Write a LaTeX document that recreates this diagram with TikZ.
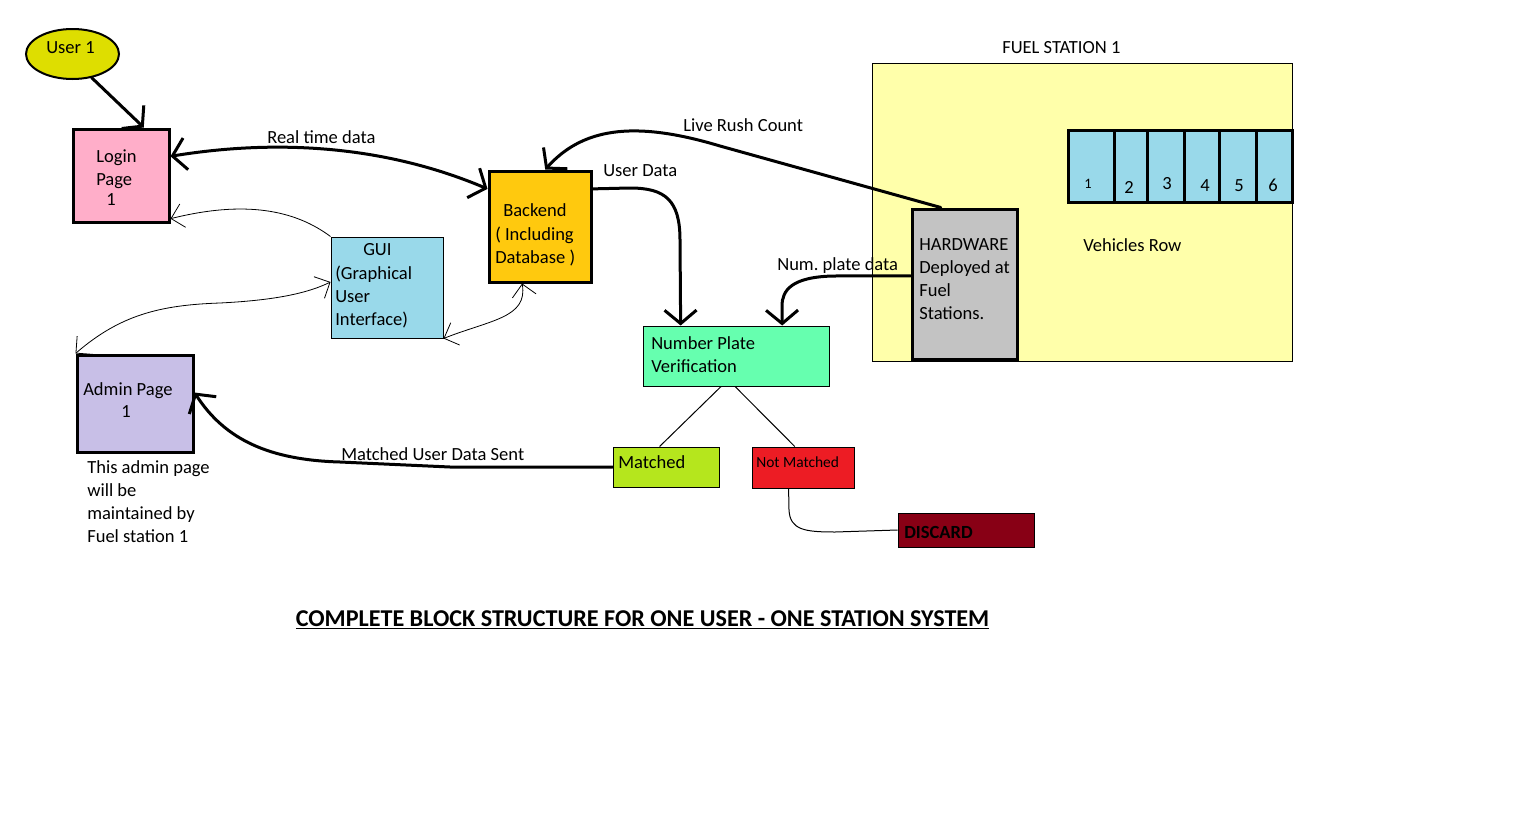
\documentclass[tikz,border=0pt]{standalone}
\usepackage{fontspec}
\setmainfont{Carlito}
\usetikzlibrary{arrows.meta,fit,calc,shapes.geometric}
\definecolor{cUser}{RGB}{222,222,0}
\definecolor{cPink}{RGB}{255,174,201}
\definecolor{cBlue}{RGB}{153,217,234}
\definecolor{cOrange}{RGB}{255,201,14}
\definecolor{cMint}{RGB}{102,255,175}
\definecolor{cStation}{RGB}{255,255,170}
\definecolor{cGrey}{RGB}{195,195,195}
\definecolor{cLime}{RGB}{181,230,29}
\definecolor{cRed}{RGB}{237,28,36}
\definecolor{cMaroon}{RGB}{136,0,21}
\definecolor{cLilac}{RGB}{200,191,231}
\newcommand\bodysize{\fontsize{13.9}{17.25}\selectfont}
\frenchspacing
\begin{document}
\begin{tikzpicture}[x=0.75pt,y=-0.75pt,
  box/.style={draw=black, line width=2.25pt, inner sep=0pt},
  thinbox/.style={draw=black, line width=0.75pt, inner sep=0pt},
  txt/.style={anchor=north west, inner sep=0pt, align=left, font=\bodysize, yshift=12.075pt, execute at begin node=\strut},
  txtm/.style={txt, yshift=-2.6pt},
  heavyarrow/.style={line width=2.25pt, line cap=round, line join=round, -{Straight Barb[length=10pt,width=24pt]}},
  heavyboth/.style={line width=2.25pt, line cap=round, line join=round, {Straight Barb[length=10pt,width=24pt]}-{Straight Barb[length=10pt,width=24pt]}},
  lightarrow/.style={line width=0.6pt, -{Straight Barb[length=9pt,width=18pt]}},
  lightboth/.style={line width=0.6pt, {Straight Barb[length=9pt,width=18pt]}-{Straight Barb[length=9pt,width=18pt]}},
  lightline/.style={line width=0.75pt}
]
\useasboundingbox[fill=white] (0,0) rectangle (1516,828);

% fuel station area
\node[thinbox, fill=cStation, fit={(872,63) (1292,361)}] (station) {};
\node[txt] (stationlbl) at (1002,53) {FUEL STATION 1};

% boxes
\node[ellipse, draw=black, line width=1.5pt, fill=cUser, minimum width=69.75pt, minimum height=37.5pt, inner sep=0pt] (user) at (72.5,54) {};
\node[box, fill=cPink, fit={(73,129) (169,222)}] (login) {};
\node[thinbox, fill=cBlue, fit={(331,237) (443,338)}] (gui) {};
\node[box, fill=cOrange, fit={(489,171) (591,282)}] (backend) {};
\node[thinbox, fill=cMint, fit={(643,326) (829,386)}] (npv) {};
\node[box, fill=cGrey, fit={(912,209) (1017,359)}] (hw) {};
\node[box, fill=cLilac, fit={(77,355) (193,452)}] (admin) {};
\node[thinbox, fill=cLime, fit={(613,447) (719,487)}] (matched) {};
\node[thinbox, fill=cRed, fit={(752,447) (854,488)}] (notmatched) {};
\node[thinbox, fill=cMaroon, fit={(898,513) (1034,547)}] (discard) {};

% vehicle row cells
\node[box, fill=cBlue, fit={(1068,130) (1114,202)}] (c1) {};
\node[box, fill=cBlue, fit={(1114,130) (1147,202)}] (c2) {};
\node[box, fill=cBlue, fit={(1147,130) (1184,202)}] (c3) {};
\node[box, fill=cBlue, fit={(1184,130) (1219,202)}] (c4) {};
\node[box, fill=cBlue, fit={(1219,130) (1256,202)}] (c5) {};
\node[box, fill=cBlue, fit={(1256,130) (1292,202)}] (c6) {};

% texts
\node[txt] (usert) at (46,53) {User 1};
\node[txtm] (logint) at (96,162) {Login\\Page};
\node[txt] (logint1) at (106,205) {1};
\node[txt] (guit) at (363,255) {GUI};
\node[txtm] (guit2) at (335,278) {(Graphical\\User\\Interface)};
\node[txt] (backt) at (503,216) {Backend};
\node[txtm] (backt2) at (495,239) {( Including\\Database )};
\node[txtm] (npvt) at (651,349) {Number Plate\\Verification};
\node[txtm] (hwt) at (919,251) {HARDWARE\\Deployed at\\Fuel\\Stations.};
\node[txt] (vrowt) at (1083,251) {Vehicles Row};
\node[anchor=base west, inner sep=0pt, font=\fontsize{10.8}{13}\selectfont] (n1) at (1084,188) {1};
\node[txt] (n2) at (1124,193) {2};
\node[txt] (n3) at (1162,189) {3};
\node[txt] (n4) at (1200,191) {4};
\node[txt] (n5) at (1234,191) {5};
\node[txt] (n6) at (1268,191) {6};
\node[txt] (matchedt) at (618,468) {Matched};
\node[anchor=base west, inner sep=0pt, font=\fontsize{11.6}{14}\selectfont] (nmt) at (756,467) {Not Matched};
\node[txt, font=\bodysize\bfseries] (discardt) at (904,538) {DISCARD};
\node[txt] (admint) at (83,395) {Admin Page};
\node[txt] (admint1) at (121,417) {1};
\node[txtm] (note) at (87,473) {This admin page\\will be\\maintained by\\Fuel station 1};

% connector labels
\node[txt] (l1) at (267,143) {Real time data};
\node[txt] (l2) at (603,176) {User Data};
\node[txt] (l3) at (683,131) {Live Rush Count};
\node[txt] (l4) at (777,270) {Num. plate data};
\node[txt] (l5) at (341,460) {Matched User Data Sent};

% heavy connectors
\draw[heavyarrow] (user.-51) -- ($(login.north west)!0.73!(login.north east)$);
\draw[heavyboth] ($(login.north east)!0.30!(login.south east)$)
  .. controls (240,145) and (360,135) .. ($(backend.north west)!0.17!(backend.south west)$);
\draw[heavyarrow] ($(hw.north west)!0.28!(hw.north east)$) -- (720,146)
  .. controls (640,122) and (585,125) .. ($(backend.north west)!0.55!(backend.north east)$);
\draw[heavyarrow] ($(backend.north east)!0.17!(backend.south east)$) -- (630,188)
  .. controls (665,188) and (680,200) .. (680,240) -- ($(npv.north west)!0.204!(npv.north east)$);
\draw[heavyarrow] ($(hw.north west)!0.447!(hw.south west)$) -- (833,276)
  .. controls (792,277) and (782,290) .. (782,306) -- ($(npv.north west)!0.747!(npv.north east)$);
\draw[heavyarrow] (matched.west) -- (450,467) -- (340,462)
  .. controls (270,460) and (225,440) .. ($(admin.north east)!0.39!(admin.south east)$);

% light connectors
\draw[lightarrow] (gui.north west) .. controls (295,210) and (245,200) .. ($(login.north east)!0.95!(login.south east)$);
\draw[lightboth] (admin.north west) .. controls (120,315) and (160,305) .. (220,303)
  .. controls (280,300) and (310,292) .. ($(gui.north west)!0.446!(gui.south west)$);
\draw[lightboth] (gui.south east) .. controls (490,320) and (528,318) .. ($(backend.south west)!0.33!(backend.south east)$);
\draw[lightline] ($(npv.south west)!0.42!(npv.south east)$) -- ($(matched.north west)!0.44!(matched.north east)$);
\draw[lightline] ($(npv.south west)!0.495!(npv.south east)$) -- ($(notmatched.north west)!0.42!(notmatched.north east)$);
\draw[lightline] ($(notmatched.south west)!0.36!(notmatched.south east)$) -- (789,510)
  .. controls (790,530) and (805,532) .. (835,532) -- (discard.west);

% title
\node[anchor=base, inner sep=0pt, font=\fontsize{18.1}{21}\selectfont\bfseries] (title) at (642.5,626) {\underline{COMPLETE BLOCK STRUCTURE FOR ONE USER - ONE STATION SYSTEM}};
\end{tikzpicture}
\end{document}
